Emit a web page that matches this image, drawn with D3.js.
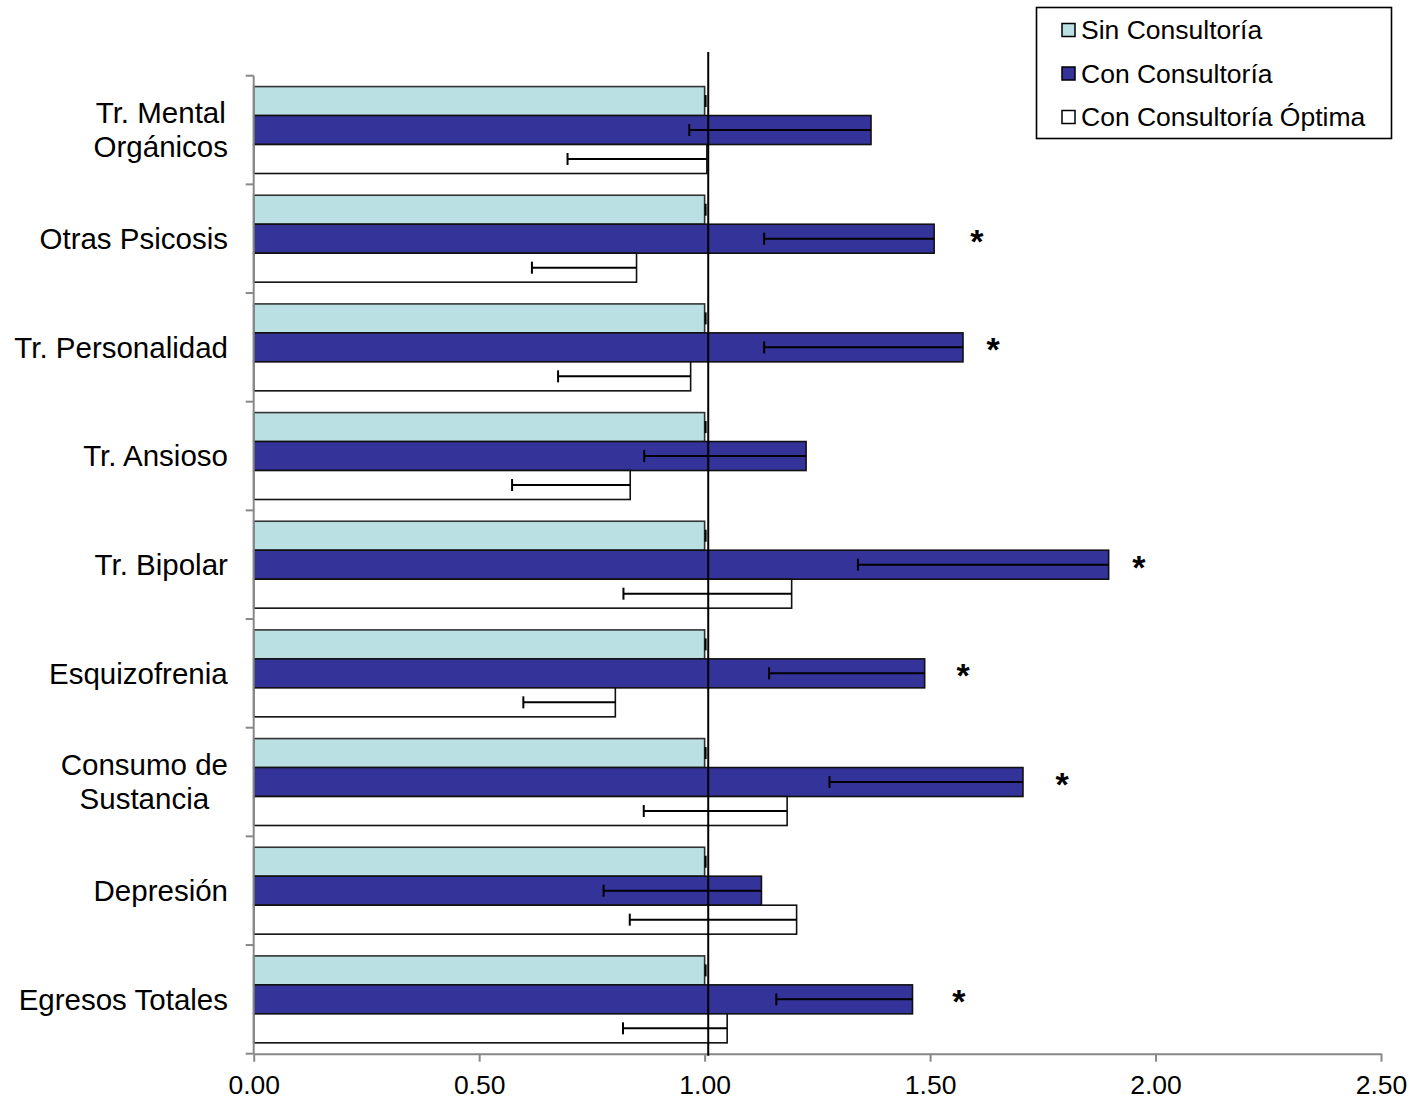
<!DOCTYPE html>
<html><head><meta charset="utf-8">
<script src="https://cdn.jsdelivr.net/npm/d3@7"></script>
<style>body{margin:0;background:#fff}text{font-family:"Liberation Sans",Arial,sans-serif;fill:#000}</style>
</head><body><svg id="c" width="1412" height="1101"></svg>
<script>
const categories = ["Tr. Mental Orgánicos","Otras Psicosis","Tr. Personalidad","Tr. Ansioso","Tr. Bipolar","Esquizofrenia","Consumo de Sustancia","Depresión","Egresos Totales"];
const categoryLines = [["Tr. Mental","Orgánicos"],["Otras Psicosis"],["Tr. Personalidad"],["Tr. Ansioso"],["Tr. Bipolar"],["Esquizofrenia"],["Consumo de","Sustancia"],["Depresión"],["Egresos Totales"]];
const seriesNames = ["Sin Consultoría","Con Consultoría","Con Consultoría Óptima"];
const sinValues = [1,1,1,1,1,1,1,1,1];
const conValues = [1.369,1.509,1.573,1.225,1.896,1.488,1.706,1.126,1.461];
const conLower  = [0.966,1.132,1.132,0.866,1.340,1.143,1.277,0.776,1.159];
const optValues = [1.005,0.849,0.969,0.835,1.193,0.802,1.183,1.204,1.050];
const optLower  = [0.696,0.617,0.675,0.573,0.820,0.598,0.865,0.834,0.819];
const significant = [false,true,true,false,true,true,true,false,true];
const starValues = [0,1.604,1.640,0,1.963,1.573,1.793,0,1.564];
const xTicks = [0,0.5,1,1.5,2,2.5];
const refValue = 1.008;
const colors = ["#BBE0E3","#333399","#FFFFFF"];

const svg = d3.select("#c");
const x = d3.scaleLinear().domain([0,2.5]).range([253.7,1381]);
const y0 = d3.scaleBand().domain(categories).range([75.7,1053.7]).paddingInner(0).paddingOuter(0);
const y1 = d3.scaleBand().domain(seriesNames).range([0,y0.bandwidth()]).paddingInner(0).paddingOuter(0.375);

const rows = categories.map((c,i)=>({c,i,vals:[sinValues[i],conValues[i],optValues[i]],low:[sinValues[i],conLower[i],optLower[i]]}));

// bars
const g = svg.append("g");
rows.forEach(r=>{
  seriesNames.forEach((s,k)=>{
    g.append("rect")
      .attr("x",x(0)).attr("y",y0(r.c)+y1(s))
      .attr("width",x(r.vals[k])-x(0)).attr("height",y1.bandwidth())
      .attr("fill",colors[k]).attr("stroke",k===0?"#333":"#111").attr("stroke-width",1.6);
  });
});
// error bars
rows.forEach(r=>{
  seriesNames.forEach((s,k)=>{
    const cy = y0(r.c)+y1(s)+y1.bandwidth()/2;
    const xe = x(r.vals[k]) + (k===0?1:0), xl = x(r.low[k]) + (k===0?1:0);
    g.append("line").attr("x1",xl).attr("x2",xe).attr("y1",cy).attr("y2",cy).attr("stroke","#000").attr("stroke-width",2);
    g.append("line").attr("x1",xl).attr("x2",xl).attr("y1",cy-6).attr("y2",cy+6).attr("stroke","#000").attr("stroke-width",2);
  });
});

// y axis
const ya = svg.append("g");
ya.append("line").attr("x1",x(0)).attr("x2",x(0)).attr("y1",y0.range()[0]).attr("y2",y0.range()[1]).attr("stroke","#888").attr("stroke-width",2);
const bounds = categories.map(c=>y0(c)).concat([y0.range()[1]]);
bounds.forEach(b=>ya.append("line").attr("x1",x(0)-8).attr("x2",x(0)).attr("y1",b).attr("y2",b).attr("stroke","#888").attr("stroke-width",2));

// x axis
const xa = svg.append("g").attr("transform",`translate(0,${y0.range()[1]})`)
  .call(d3.axisBottom(x).tickValues(xTicks).tickFormat(d3.format(".2f")).tickSize(8).tickSizeOuter(0).tickPadding(13));
xa.select(".domain").attr("stroke","#888").attr("stroke-width",2);
xa.selectAll(".tick line").attr("stroke","#888").attr("stroke-width",2);
xa.selectAll(".tick text").style("font-size","26.5px").style("font-family","'Liberation Sans',Arial,sans-serif").attr("fill","#000");

// reference line
svg.append("line").attr("x1",x(refValue)).attr("x2",x(refValue)).attr("y1",52).attr("y2",y0.range()[1]+2).attr("stroke","#000").attr("stroke-width",2);

// category labels
rows.forEach(r=>{
  const lines = categoryLines[r.i];
  const cy = y0(r.c)+y0.bandwidth()/2;
  const t = svg.append("text").style("font-size","29.5px").attr("text-anchor","middle");
  const lh = 34;
  lines.forEach((ln,j)=>{
    t.append("tspan").attr("x",0).attr("y",cy+(j-(lines.length-1)/2)*lh).attr("dy","0.35em").text(ln);
  });
  const w = t.node().getBBox().width;
  t.selectAll("tspan").attr("x",228-w/2);
});

// significance stars
rows.forEach(r=>{
  if(!significant[r.i]) return;
  const cy = y0(r.c)+y1(seriesNames[1])+y1.bandwidth()/2;
  svg.append("text").attr("x",x(starValues[r.i])).attr("y",cy+14).attr("text-anchor","middle")
    .style("font-size","34px").style("font-weight","bold").text("*");
});

// legend
const lg = svg.append("g");
lg.append("rect").attr("x",1036.5).attr("y",7.5).attr("width",355).attr("height",131).attr("fill","#fff").attr("stroke","#000").attr("stroke-width",1.6);
seriesNames.forEach((s,k)=>{
  const cy = 30 + k*43.5;
  lg.append("rect").attr("x",1062).attr("y",cy-6.5).attr("width",13).attr("height",13).attr("fill",colors[k]).attr("stroke","#000").attr("stroke-width",1.5);
  lg.append("text").attr("x",1081).attr("y",cy).attr("dy","0.35em").style("font-size","26.5px").text(s);
});
</script></body></html>
